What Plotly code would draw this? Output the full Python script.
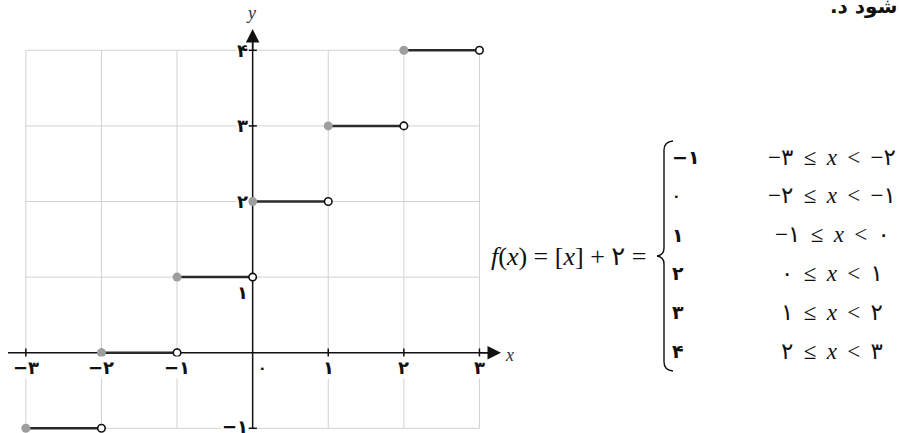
import plotly.graph_objects as go

# ---- data ----
x_ticks = [-3, -2, -1, 0, 1, 2, 3]
y_ticks = [-1, 1, 2, 3, 4]
step_start = [-3, -2, -1, 0, 1, 2]
step_value = [-1, 0, 1, 2, 3, 4]
step_end = [s + 1 for s in step_start]

FA = str.maketrans("0123456789", "۰۱۲۳۴۵۶۷۸۹")


def fa(n):
    s = str(abs(n)).translate(FA)
    return ("−" if n < 0 else "") + s


W, H = 900, 433
X0, Y0, U = 252.65, 352.7, 75.6  # pixel origin and unit


def pxp(px):
    return px / W


def pyp(py):
    return 1 - py / H


fig = go.Figure()

# grid (only inside [-3,3] x [-1,4])
gx, gy = [], []
xmin, xmax = min(x_ticks), max(x_ticks)
ymin, ymax = min(y_ticks), max(y_ticks)
for xv in x_ticks:
    if xv == 0:
        continue
    gx += [xv, xv, None]
    gy += [ymin, ymax, None]
for yv in y_ticks:
    gx += [xmin, xmax, None]
    gy += [yv, yv, None]
fig.add_trace(go.Scatter(x=gx, y=gy, mode="lines", line=dict(color="#d2d2d2", width=1),
                         hoverinfo="skip", showlegend=False))

# axes lines
x_lo, x_hi = (8 - X0) / U, (494 - X0) / U
y_hi = (Y0 - 36) / U
fig.add_trace(go.Scatter(x=[x_lo, x_hi, None, 0, 0], y=[0, 0, None, ymin, y_hi], mode="lines",
                         line=dict(color="#111", width=1.5), hoverinfo="skip", showlegend=False))

# ticks
fig.add_trace(go.Scatter(x=[v for v in x_ticks if v != 0], y=[0] * (len(x_ticks) - 1), mode="markers",
                         marker=dict(symbol="line-ns", size=6, line=dict(width=1.5, color="#111")),
                         hoverinfo="skip", showlegend=False))
fig.add_trace(go.Scatter(x=[0] * len(y_ticks), y=y_ticks, mode="markers",
                         marker=dict(symbol="line-ew", size=6, line=dict(width=1.5, color="#111")),
                         hoverinfo="skip", showlegend=False))

# step segments
sx, sy = [], []
for a, b, v in zip(step_start, step_end, step_value):
    sx += [a, b, None]
    sy += [v, v, None]
fig.add_trace(go.Scatter(x=sx, y=sy, mode="lines", line=dict(color="#2a2a2a", width=2.5),
                         hoverinfo="skip", showlegend=False))
fig.add_trace(go.Scatter(x=step_start, y=step_value, mode="markers",
                         marker=dict(size=9, color="#9e9e9e", line=dict(width=0)),
                         hoverinfo="skip", showlegend=False))
fig.add_trace(go.Scatter(x=step_end, y=step_value, mode="markers",
                         marker=dict(size=7.5, color="white", line=dict(width=1.6, color="#111")),
                         hoverinfo="skip", showlegend=False))

ann = []
lab_font = dict(family="DejaVu Sans", size=18, color="#111", weight="bold")
# x tick labels
for v in x_ticks:
    if v == 0:
        ann.append(dict(x=0, y=0, xref="x", yref="y", text=fa(v), showarrow=False, xshift=10, yshift=-15,
                        xanchor="center", yanchor="middle",
                        font=dict(family="DejaVu Sans", size=14, color="#111", weight="bold")))
    else:
        ann.append(dict(x=v, y=0, xref="x", yref="y", text=fa(v), showarrow=False, yshift=-15,
                        xanchor="center", yanchor="middle",
                        bgcolor="white", borderpad=0, font=lab_font))
# y tick labels
for v in y_ticks:
    ys = -15 if v == 1 else (2 if v == -1 else 0)
    ann.append(dict(x=0, y=v, xref="x", yref="y", text=fa(v), showarrow=False, xanchor="right",
                    yanchor="middle", xshift=-4, yshift=ys, bgcolor="white", borderpad=0, font=lab_font))

# arrowheads
ann.append(dict(x=(501 - X0) / U, y=0, ax=x_hi - 0.2, ay=0, xref="x", yref="y", axref="x", ayref="y",
                text="", showarrow=True, arrowhead=2, arrowsize=1.8, arrowwidth=1.5, arrowcolor="#111"))
ann.append(dict(x=0, y=(Y0 - 29) / U, ax=0, ay=y_hi - 0.2, xref="x", yref="y", axref="x", ayref="y",
                text="", showarrow=True, arrowhead=2, arrowsize=1.8, arrowwidth=1.5, arrowcolor="#111"))
# axis names
ann.append(dict(x=pxp(509), y=pyp(355), xref="paper", yref="paper", text="<i>x</i>", showarrow=False,
                xanchor="center", yanchor="middle",
                font=dict(family="Liberation Serif", size=18, color="#333")))
ann.append(dict(x=pxp(251), y=pyp(13), xref="paper", yref="paper", text="<i>y</i>", showarrow=False,
                xanchor="center", yanchor="middle",
                font=dict(family="Liberation Serif", size=18, color="#333")))

# formula
ann.append(dict(x=pxp(489), y=pyp(256), xref="paper", yref="paper", xanchor="left", yanchor="middle",
                text="<i>f</i>(<i>x</i>) = [<i>x</i>] + ۲ =", showarrow=False,
                font=dict(family="Liberation Serif, DejaVu Sans", size=26, color="#111")))
SP = " \u2009"
for i, (a, b, v) in enumerate(zip(step_start, step_end, step_value)):
    rpy = 157 + i * 38.8
    ann.append(dict(x=pxp(670), y=pyp(rpy), xref="paper", yref="paper", xanchor="left", yanchor="middle",
                    text=fa(v), showarrow=False,
                    font=dict(family="DejaVu Sans", size=19 if v != 0 else 14, color="#111",
                              weight="bold")))
    ann.append(dict(x=pxp(832), y=pyp(rpy), xref="paper", yref="paper", xanchor="center", yanchor="middle",
                    text=f"{fa(a)}{SP}≤{SP}<i>x</i>{SP}&lt;{SP}{fa(b)}", showarrow=False,
                    font=dict(family="Liberation Serif, DejaVu Sans", size=23, color="#111")))

# clipped text at top right
ann.append(dict(x=pxp(899), y=pyp(6), xref="paper", yref="paper", xanchor="right", yanchor="middle",
                text=".شود د", showarrow=False,
                font=dict(family="DejaVu Sans", size=20, color="#111", weight="bold")))


def P(px, py):
    return f"{pxp(px):.5f},{pyp(py):.5f}"


brace = (f"M {P(673,141)} Q {P(664,142)} {P(664,150)} L {P(664,248)} Q {P(664,255)} {P(657,256)} "
         f"Q {P(664,257)} {P(664,264)} L {P(664,362)} Q {P(664,370)} {P(673,371)}")

fig.update_layout(
    width=W, height=H, margin=dict(l=0, r=0, t=0, b=0),
    paper_bgcolor="white", plot_bgcolor="white",
    xaxis=dict(range=[-X0 / U, (W - X0) / U], visible=False, fixedrange=True),
    yaxis=dict(range=[(Y0 - H) / U, Y0 / U], visible=False, fixedrange=True),
    annotations=ann,
    shapes=[dict(type="path", path=brace, xref="paper", yref="paper", line=dict(color="#111", width=1.4))],
    showlegend=False,
)

fig.write_html("out.html", config={"displayModeBar": False},
               post_script="document.body.style.margin='0';document.body.style.overflow='hidden';")
